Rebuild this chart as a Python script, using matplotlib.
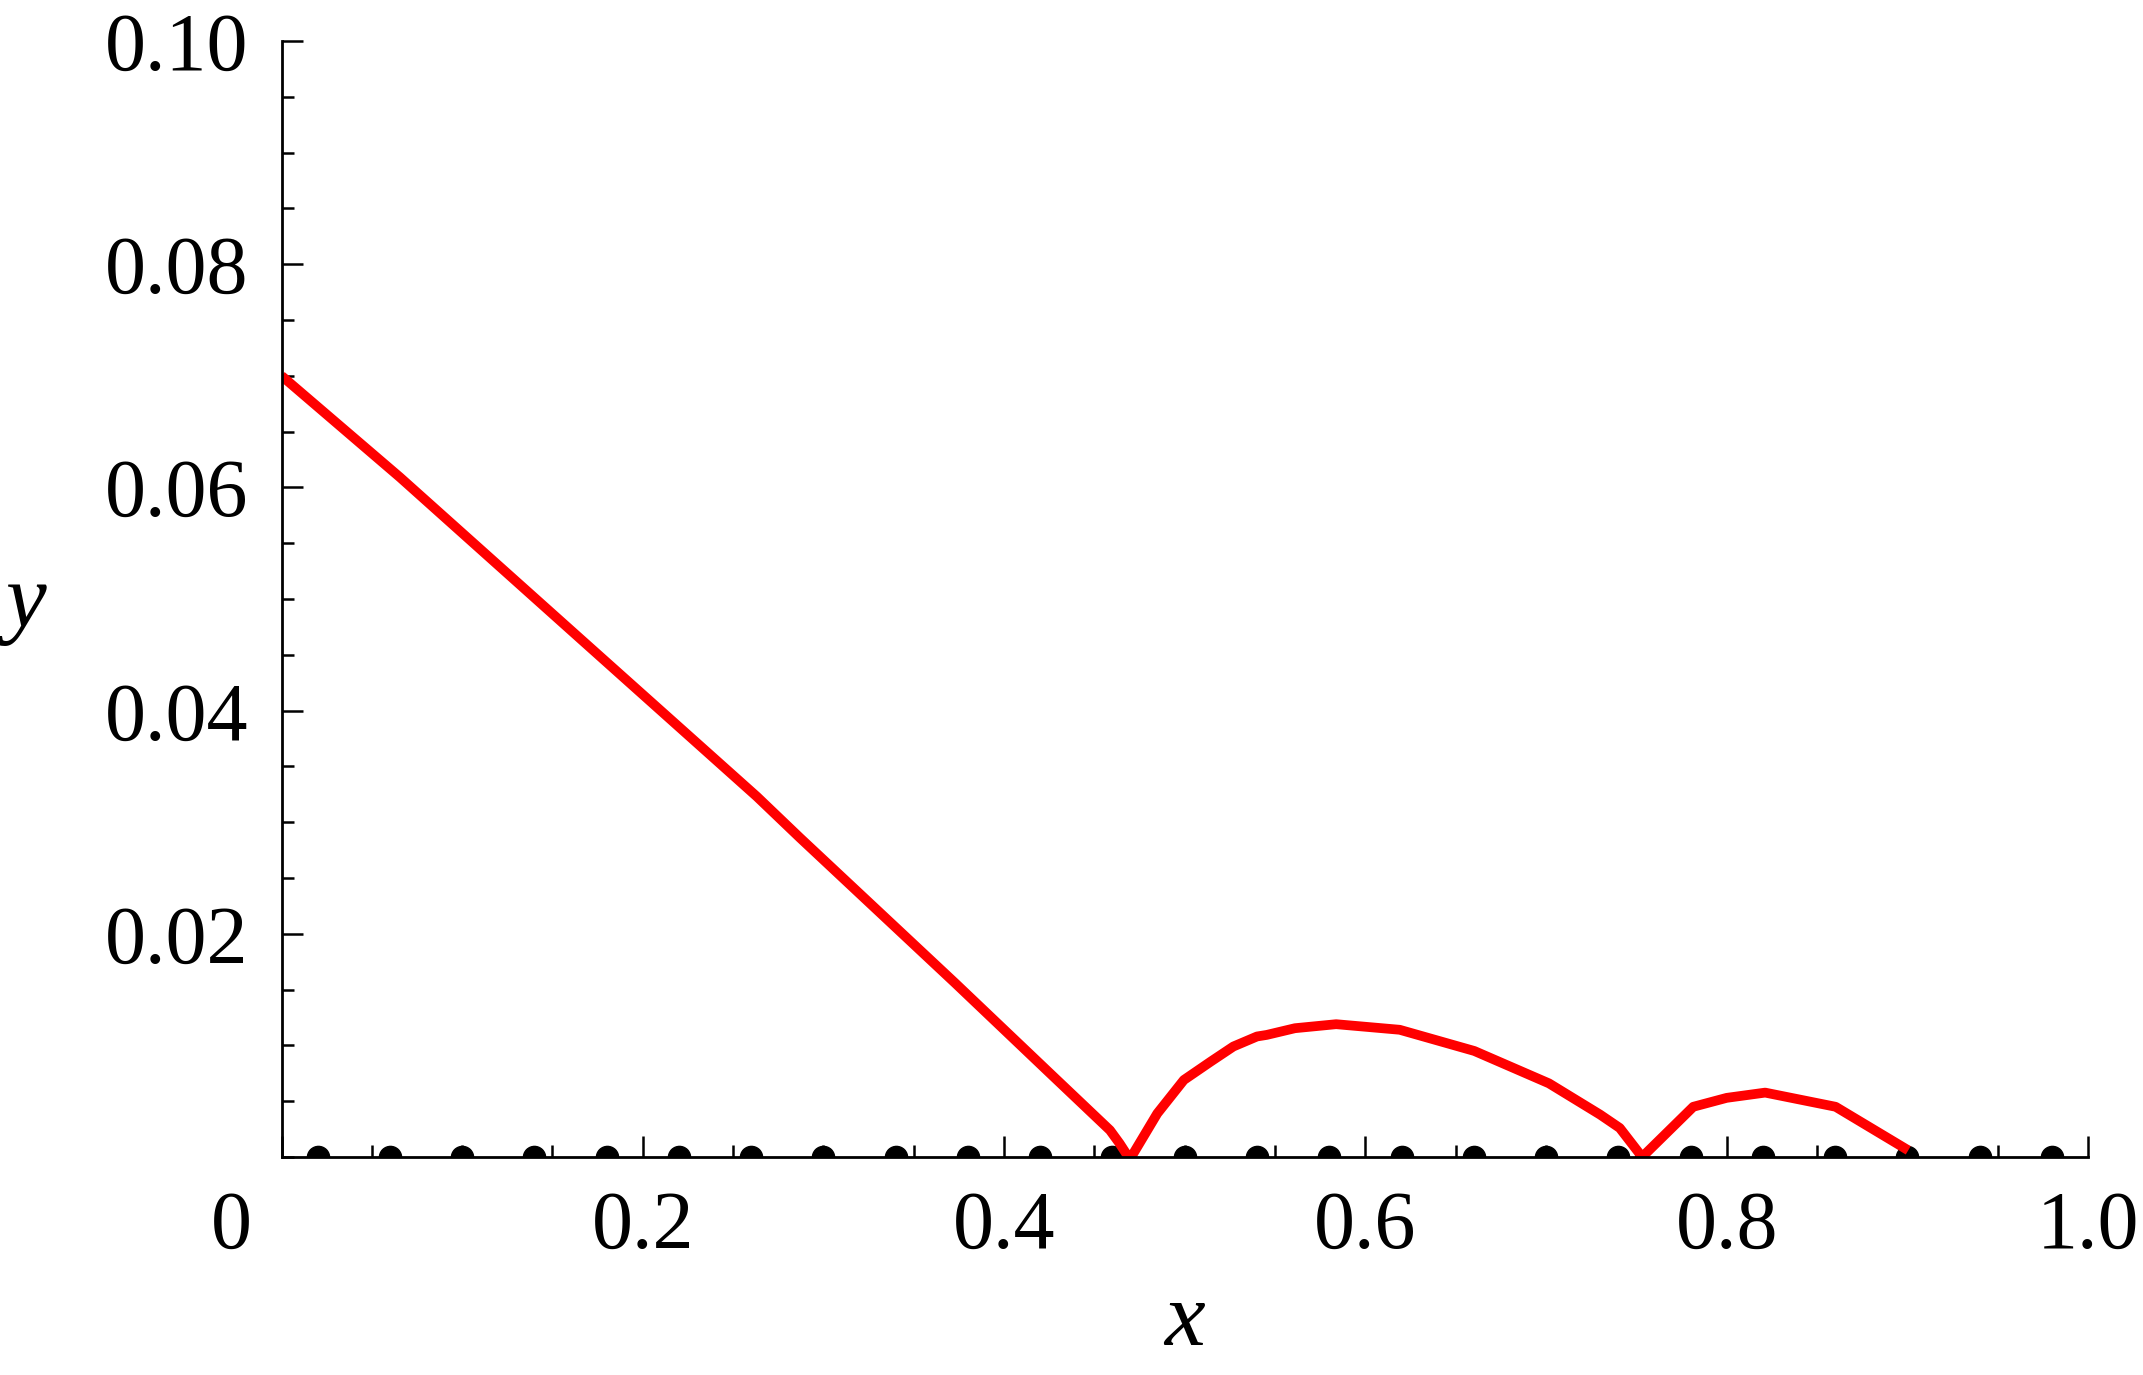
import matplotlib
matplotlib.use("Agg")
import matplotlib.pyplot as plt
from matplotlib.ticker import FixedLocator, FixedFormatter, MultipleLocator

# ---- data ----
curve_x = [0.0, 0.0656, 0.1643, 0.2631, 0.287, 0.3728, 0.4254, 0.4586, 0.4640,
           0.4688, 0.4715, 0.4848, 0.4995, 0.5144, 0.5269, 0.5400, 0.5454, 0.5610,
           0.5838, 0.6190, 0.6603, 0.7016, 0.7299, 0.7408, 0.7532,
           0.7815, 0.8000, 0.8213, 0.8603, 0.9005]
curve_y = [0.0700, 0.0609, 0.0466, 0.0323, 0.0286, 0.0156, 0.0075, 0.0024, 0.0012,
           0.0, 0.0003, 0.0039, 0.0069, 0.00855, 0.0099, 0.0108, 0.01094, 0.01154,
           0.0119, 0.0114, 0.0095, 0.0066, 0.0038, 0.0026, 0.0,
           0.0045, 0.0053, 0.00577, 0.0045, 0.0006]

dots_x = [0.02, 0.06, 0.10, 0.14, 0.18, 0.22, 0.26, 0.30, 0.34, 0.38, 0.42, 0.46,
          0.50, 0.54, 0.58, 0.62, 0.66, 0.70, 0.74, 0.78, 0.82, 0.86, 0.90, 0.94, 0.98]
dots_y = [0.0] * len(dots_x)

xtick_vals = [0.0, 0.2, 0.4, 0.6, 0.8, 1.0]
xtick_labels = ["", "0.2", "0.4", "0.6", "0.8", "1.0"]
ytick_vals = [0.02, 0.04, 0.06, 0.08, 0.10]
ytick_labels = ["0.02", "0.04", "0.06", "0.08", "0.10"]

# ---- figure ----
DPI = 100
fig = plt.figure(figsize=(21.43, 13.75), dpi=DPI)
ax = fig.add_axes([281.5 / 2143, (1375 - 1157) / 1375,
                   (2088 - 281.5) / 2143, (1157 - 41) / 1375])

serif = ["Liberation Serif", "DejaVu Serif"]
tick_fs = 59
label_fs = 66

ax.plot(dots_x, dots_y, "o", color="black", markersize=16, zorder=2, clip_on=True)
ax.plot(curve_x, curve_y, color="#ff0000", linewidth=7.0, zorder=3,
        solid_joinstyle="round", solid_capstyle="butt", clip_on=True)

ax.set_xlim(0, 1.0)
ax.set_ylim(0, 0.10)

for s in ["top", "right"]:
    ax.spines[s].set_visible(False)
for s in ["left", "bottom"]:
    ax.spines[s].set_linewidth(2.0)
    ax.spines[s].set_zorder(5)

ax.xaxis.set_major_locator(FixedLocator(xtick_vals))
ax.xaxis.set_major_formatter(FixedFormatter(xtick_labels))
ax.xaxis.set_minor_locator(MultipleLocator(0.05))
ax.yaxis.set_major_locator(FixedLocator(ytick_vals))
ax.yaxis.set_major_formatter(FixedFormatter(ytick_labels))
ax.yaxis.set_minor_locator(MultipleLocator(0.005))

ax.tick_params(which="both", direction="in", width=1.8, color="black")
ax.tick_params(which="major", length=14.8)
ax.tick_params(which="minor", length=8.8)
ax.tick_params(axis="x", which="major", pad=24)
ax.tick_params(axis="y", which="major", pad=24)

for lab in ax.get_xticklabels() + ax.get_yticklabels():
    lab.set_fontfamily(serif)
    lab.set_fontsize(tick_fs)

# the "0" label at the origin, set to the left as in the reference
ax.annotate("0", xy=(0, 0), xycoords="axes fraction",
            xytext=(-36, -24), textcoords="offset points",
            ha="center", va="top", fontsize=tick_fs, family=serif)

ax.set_xlabel("x", fontsize=label_fs, family=serif, style="italic", va="baseline")
ax.xaxis.set_label_coords(0.5, -0.1685)
ax.set_ylabel("y", fontsize=label_fs, family=serif, style="italic", rotation=0,
              ha="center", va="baseline")
ax.yaxis.set_label_coords(-0.1414, 0.475)

fig.savefig("out.png", dpi=DPI, facecolor="white")
